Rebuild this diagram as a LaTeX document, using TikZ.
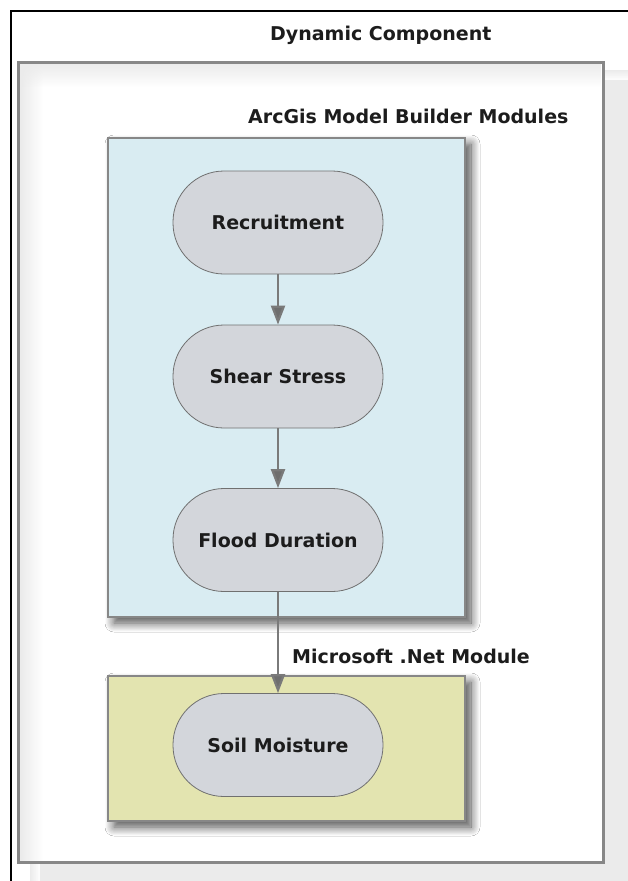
\documentclass[tikz,border=0pt]{standalone}
\usepackage{fontspec}
\setmainfont{DejaVu Sans}
\usetikzlibrary{arrows.meta,shadows.blur,fadings}

\definecolor{framegray}{HTML}{878787}
\definecolor{bandgray}{HTML}{EBEBEB}
\definecolor{arcblue}{HTML}{D9ECF2}
\definecolor{netkhaki}{HTML}{E3E4B0}
\definecolor{stepfill}{HTML}{D3D6DB}
\definecolor{stepedge}{HTML}{707070}
\definecolor{flowgray}{HTML}{7A7A7A}
\definecolor{inkdark}{HTML}{1C1C1C}

\tikzfading[name=band fade down, top color=transparent!0, bottom color=transparent!100]
\tikzfading[name=band fade right, left color=transparent!0, right color=transparent!100]

\tikzset{
  label text/.style={font=\fontsize{19}{22}\selectfont\bfseries, text=inkdark, inner sep=0pt},
  module box/.style={draw=framegray, line width=1.2pt,
    blur shadow={shadow xshift=6pt, shadow yshift=-6pt, shadow blur radius=9pt,
      shadow blur steps=12, shadow opacity=70}},
  stepnode/.style={draw=stepedge, line width=0.8pt, fill=stepfill,
    minimum width=210pt, minimum height=103pt, rounded corners=51pt, label text},
  flow/.style={draw=flowgray, line width=2.2pt,
    -{Triangle[width=14pt,length=19pt,fill=flowgray!90!black]}},
}

\begin{document}
\begin{tikzpicture}[x=1pt, y=-1pt]
  \useasboundingbox (0,0) rectangle (628,881);
  \fill[white] (0,0) rectangle (628,881);

  \begin{scope}
    \clip (0,0) rectangle (628,881);
    % drop shadow of the outer panel
    \fill[bandgray] (40,80) rectangle (640,900);
    \fill[bandgray, path fading=band fade right] (30,80) rectangle (40,900);
    \fill[bandgray, path fading=band fade down] (40,70) rectangle (640,80);
    % outer panel
    \fill[white] (18.5,62) rectangle (603,862);
    % soft inner shading along the top and left edges
    \fill[bandgray, path fading=band fade right] (20,63.5) rectangle (43,860.5);
    \fill[bandgray, path fading=band fade down] (20,63.5) rectangle (601.5,87);
    \draw[framegray, line width=3pt] (18.5,62) rectangle (603,862);
    % page frame
    \draw[black, line width=2pt] (11,11) rectangle (660,920);
  \end{scope}

  \node[label text, anchor=base west] (dyn) at (270,40) {Dynamic Component};

  % ArcGIS modules
  \path[module box, fill=arcblue] (108,138) rectangle (465,617);
  \node[label text, anchor=base west] (arc) at (248,123) {ArcGis Model Builder Modules};

  % .Net module
  \path[module box, fill=netkhaki] (108,676) rectangle (465,821);
  \node[label text, anchor=base west] (net) at (292,663) {Microsoft .Net Module};

  % processing steps
  \node[stepnode] (rec)   at (278,222.5) {Recruitment};
  \node[stepnode] (shear) at (278,376.5) {Shear Stress};
  \node[stepnode] (flood) at (278,540)   {Flood Duration};
  \node[stepnode] (soil)  at (278,745)   {Soil Moisture};

  \draw[flow] (rec) -- (shear);
  \draw[flow] (shear) -- (flood);
  \draw[flow] (flood) -- (soil);
\end{tikzpicture}
\end{document}
